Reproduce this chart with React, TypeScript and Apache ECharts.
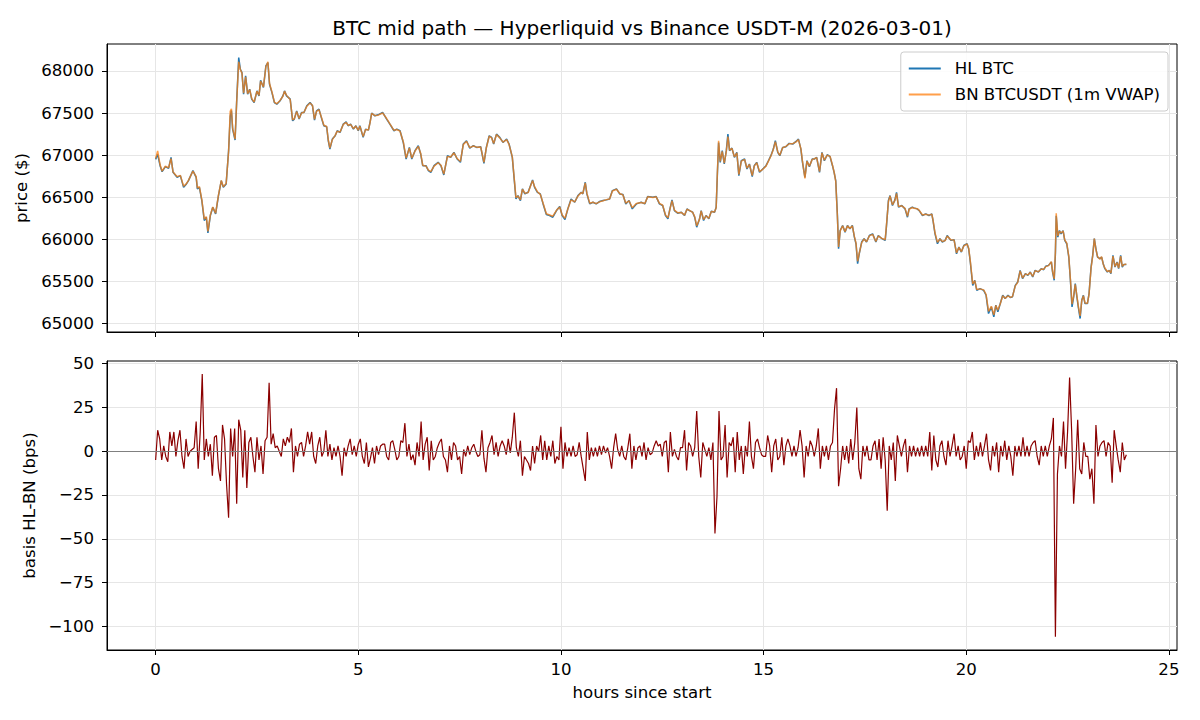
import React, { useEffect, useRef } from "react";
import * as echarts from "echarts";

const TITLE = "BTC mid path — Hyperliquid vs Binance USDT-M (2026-03-01)";
const HL_NAME = "HL BTC";
const BN_NAME = "BN BTCUSDT (1m VWAP)";

// hours since start for price samples
const hlHours = [
  0.0, 0.05, 0.11, 0.16, 0.24, 0.32, 0.38, 0.43, 0.53, 0.61, 0.69, 0.76, 0.81, 0.92,
  1.0, 1.03, 1.08, 1.14, 1.2, 1.25, 1.29, 1.35, 1.41, 1.48, 1.55, 1.62, 1.67, 1.74, 1.8, 1.84, 1.87, 1.9, 1.96,
  2.0, 2.05, 2.09, 2.13, 2.17, 2.22, 2.27, 2.32, 2.37, 2.43, 2.5, 2.55, 2.59, 2.66, 2.72, 2.77, 2.81, 2.87, 2.93, 2.99,
  3.07, 3.14, 3.18, 3.23, 3.32, 3.38, 3.42, 3.48, 3.54, 3.6, 3.66, 3.73, 3.81, 3.87, 3.92, 3.97,
  4.03, 4.1, 4.15, 4.22, 4.26, 4.3, 4.36, 4.43, 4.48, 4.55, 4.63, 4.7, 4.75, 4.81, 4.88, 4.94,
  5.0, 5.04, 5.12, 5.18, 5.25, 5.29, 5.33, 5.41, 5.49, 5.6, 5.7, 5.78, 5.88, 5.95,
  6.03, 6.11, 6.18, 6.26, 6.32, 6.4, 6.48, 6.54, 6.59, 6.67, 6.73, 6.79, 6.87, 6.97,
  7.04, 7.11, 7.2, 7.28, 7.36, 7.44, 7.52, 7.59, 7.67, 7.75, 7.84, 7.92,
  8.02, 8.1, 8.16, 8.23, 8.29, 8.34, 8.41, 8.49, 8.57, 8.66, 8.72, 8.8, 8.85, 8.89, 8.94,
  9.0, 9.05, 9.11, 9.19, 9.3, 9.35, 9.42, 9.49, 9.56, 9.64, 9.72, 9.8, 9.89, 9.97,
  10.03, 10.1, 10.17, 10.25, 10.34, 10.42, 10.5, 10.54, 10.6, 10.64, 10.71, 10.79, 10.87, 10.95,
  11.04, 11.12, 11.2, 11.27, 11.37, 11.45, 11.53, 11.6, 11.68, 11.76, 11.86, 11.98,
  12.07, 12.14, 12.27, 12.35, 12.43, 12.51, 12.58, 12.64, 12.68, 12.74, 12.8, 12.88, 12.97,
  13.05, 13.11, 13.17, 13.25, 13.3, 13.35, 13.42, 13.46, 13.52, 13.58, 13.65, 13.71, 13.79, 13.83, 13.86, 13.89, 13.93, 13.98,
  14.03, 14.08, 14.12, 14.16, 14.22, 14.28, 14.34, 14.39, 14.45, 14.53, 14.59, 14.65, 14.72, 14.77, 14.83, 14.9, 14.98,
  15.06, 15.12, 15.18, 15.24, 15.29, 15.35, 15.4, 15.47, 15.55, 15.63, 15.72, 15.8, 15.86, 15.92, 15.96,
  16.02, 16.07, 16.13, 16.2, 16.25, 16.31, 16.38, 16.44, 16.5, 16.57, 16.64, 16.7, 16.74, 16.78, 16.82, 16.85, 16.89, 16.95,
  17.01, 17.07, 17.13, 17.19, 17.24, 17.28, 17.32, 17.36, 17.42, 17.48, 17.54, 17.61, 17.69, 17.77, 17.83, 17.92,
  18.0, 18.03, 18.08, 18.12, 18.18, 18.24, 18.28, 18.33, 18.41, 18.49, 18.55, 18.59, 18.67, 18.71, 18.79, 18.84, 18.92,
  19.0, 19.08, 19.15, 19.18, 19.23, 19.29, 19.35, 19.41, 19.48, 19.53, 19.62, 19.7, 19.76, 19.82, 19.88, 19.94,
  20.02, 20.06, 20.1, 20.16, 20.21, 20.26, 20.34, 20.43, 20.49, 20.55, 20.62, 20.68, 20.73, 20.78, 20.84, 20.9, 20.96,
  21.03, 21.09, 21.14, 21.21, 21.27, 21.33, 21.39, 21.46, 21.52, 21.58, 21.64, 21.7, 21.78, 21.85, 21.91, 21.96,
  22.03, 22.1, 22.13, 22.17, 22.2, 22.22, 22.26, 22.3, 22.34, 22.39, 22.43, 22.48, 22.53, 22.57, 22.61, 22.65, 22.69, 22.73, 22.77, 22.81, 22.85, 22.89, 22.93, 22.99,
  23.03, 23.08, 23.12, 23.16, 23.2, 23.24, 23.3, 23.34, 23.38, 23.42, 23.48, 23.53, 23.57, 23.62, 23.67, 23.72, 23.76, 23.81, 23.85, 23.89, 23.95,
];

const hlPrice = [
  66950, 67010, 66875, 66804, 66863, 66843, 66974, 66796, 66737, 66757, 66618, 66658, 66697, 66816,
  66737, 66599, 66618, 66461, 66224, 66263, 66078, 66283, 66382, 66303, 66520, 66697, 66618, 66658, 67053, 67460, 67530, 67309, 67179,
  67645, 68158, 68020, 67980, 67724, 67941, 67724, 67783, 67665, 67625, 67763, 67704, 67889, 67803, 68059, 68099, 67842, 67743, 67625, 67605,
  67645, 67704, 67763, 67704, 67665, 67408, 67428, 67526, 67428, 67507, 67507, 67586, 67625, 67586, 67416, 67526,
  67546, 67428, 67349, 67337, 67171, 67072, 67191, 67230, 67290, 67270, 67369, 67396, 67349, 67369, 67309, 67349,
  67290, 67349, 67211, 67309, 67297, 67390, 67500, 67467, 67479, 67507, 67428, 67369, 67290, 67309,
  67290, 67151, 66954, 67092, 66954, 67053, 67112, 67013, 66875, 66875, 66816, 66796, 66875, 66915,
  66875, 66765, 66994, 66974, 67033, 66954, 66915, 67132, 67171, 67084, 67112, 67092,
  67100, 66903, 67092, 67230, 67211, 67132, 67250, 67211, 67151, 67191, 67132, 66974, 66697, 66480, 66520,
  66461, 66599, 66540, 66559, 66705, 66618, 66559, 66540, 66421, 66295, 66283, 66263, 66342, 66390,
  66283, 66236, 66362, 66480, 66441, 66520, 66559, 66540, 66678, 66540, 66421, 66441, 66421, 66449,
  66461, 66469, 66480, 66579, 66599, 66540, 66532, 66421, 66461, 66362, 66421, 66441,
  66421, 66508, 66500, 66508, 66421, 66402, 66283, 66244, 66342, 66469, 66342, 66311, 66323,
  66283, 66362, 66342, 66323, 66263, 66145, 66244, 66342, 66224, 66283, 66244, 66334, 66323, 66382, 66776, 67151, 66915, 67053,
  66895, 67053, 67250, 67053, 67084, 66974, 67033, 66757, 66934, 66954, 66836, 66895, 66745, 66875, 66915, 66796, 66836,
  66875, 66934, 66994, 67072, 67171, 67033, 66994, 67092, 67100, 67140, 67132, 67163, 67191, 67072, 66915,
  66737, 66934, 66863, 66954, 66954, 66974, 66796, 67033, 66934, 67005, 66982, 66875, 66796, 66697, 66303, 65888, 66105, 66165,
  66086, 66165, 66125, 66165, 66027, 65948, 65711, 65829, 65968, 66008, 65968, 66046, 66066, 65968, 66046, 66008,
  65988, 66145, 66461, 66520, 66402, 66469, 66559, 66382, 66402, 66362, 66263, 66362, 66382, 66374, 66362, 66342, 66283,
  66303, 66283, 66303, 66224, 66066, 65948, 66008, 65968, 65988, 66046, 65988, 65996, 65829, 65908, 65849, 65928,
  65948, 65888, 65731, 65454, 65514, 65395, 65415, 65395, 65336, 65119, 65198, 65079, 65218, 65139, 65238, 65336, 65297,
  65336, 65309, 65317, 65454, 65494, 65632, 65534, 65593, 65573, 65612, 65553, 65632, 65612, 65652, 65640, 65680,
  65691, 65731, 65612, 65514, 65829, 66280, 66027, 66105, 66066, 66105, 65988, 65948, 65790, 65514, 65198, 65317, 65474, 65317, 65179, 65060, 65277, 65336, 65238, 65238,
  65356, 65671, 65810, 66008, 65888, 65790, 65770, 65790, 65711, 65652, 65612, 65632, 65593, 65810, 65671, 65731, 65652, 65810, 65671, 65703, 65703,
];

const bnPrice = [
  66960, 67050, 66885, 66810, 66870, 66850, 66960, 66800, 66745, 66760, 66630, 66662, 66700, 66810,
  66745, 66610, 66625, 66470, 66240, 66270, 66095, 66290, 66385, 66310, 66525, 66700, 66625, 66665, 67040, 67520, 67550, 67320, 67190,
  67640, 68110, 68015, 67975, 67735, 67930, 67730, 67780, 67675, 67630, 67760, 67710, 67880, 67810, 68050, 68110, 67850, 67750, 67630, 67610,
  67650, 67700, 67760, 67710, 67660, 67420, 67430, 67520, 67435, 67500, 67510, 67580, 67620, 67590, 67425, 67520,
  67540, 67435, 67355, 67340, 67180, 67085, 67185, 67235, 67285, 67275, 67365, 67390, 67355, 67365, 67315, 67345,
  67295, 67345, 67220, 67305, 67300, 67385, 67495, 67470, 67475, 67500, 67435, 67372, 67295, 67305,
  67285, 67160, 66965, 67085, 66965, 67050, 67105, 67020, 66880, 66870, 66822, 66805, 66870, 66910,
  66880, 66775, 66985, 66978, 67028, 66960, 66925, 67125, 67165, 67090, 67108, 67095,
  67098, 66915, 67088, 67225, 67205, 67138, 67245, 67205, 67155, 67185, 67128, 66980, 66710, 66495, 66515,
  66470, 66595, 66548, 66555, 66700, 66625, 66565, 66535, 66430, 66305, 66290, 66275, 66345, 66385,
  66290, 66250, 66360, 66470, 66445, 66515, 66555, 66545, 66670, 66548, 66430, 66440, 66425, 66445,
  66458, 66472, 66478, 66575, 66595, 66545, 66528, 66430, 66458, 66375, 66425, 66438,
  66425, 66505, 66498, 66505, 66428, 66405, 66290, 66255, 66338, 66460, 66348, 66315, 66320,
  66288, 66358, 66345, 66320, 66270, 66160, 66240, 66338, 66235, 66280, 66250, 66330, 66325, 66375, 66800, 67170, 66925, 67045,
  66905, 67045, 67220, 67060, 67080, 66980, 67028, 66770, 66930, 66950, 66845, 66890, 66758, 66870, 66910, 66805, 66832,
  66870, 66930, 66990, 67068, 67160, 67040, 66998, 67088, 67104, 67135, 67136, 67158, 67185, 67078, 66925,
  66725, 66930, 66870, 66950, 66958, 66970, 66805, 67028, 66940, 67000, 66986, 66880, 66800, 66690, 66280, 65910, 66100, 66160,
  66092, 66160, 66130, 66160, 66035, 65955, 65740, 65835, 65962, 66004, 65972, 66042, 66060, 65975, 66040, 66012,
  65995, 66160, 66450, 66515, 66410, 66462, 66545, 66390, 66398, 66368, 66275, 66358, 66378, 66370, 66365, 66345, 66290,
  66298, 66288, 66300, 66230, 66075, 65965, 66005, 65975, 65985, 66040, 65994, 65992, 65840, 65905, 65855, 65922,
  65945, 65895, 65745, 65470, 65510, 65405, 65412, 65400, 65345, 65145, 65205, 65105, 65215, 65160, 65235, 65330, 65300,
  65330, 65312, 65320, 65448, 65490, 65625, 65540, 65590, 65578, 65608, 65560, 65628, 65615, 65648, 65645, 65676,
  65688, 65735, 65620, 65530, 65860, 66310, 66040, 66098, 66075, 66100, 65995, 65955, 65800, 65530, 65230, 65325, 65465, 65330, 65195, 65090, 65270, 65330, 65245, 65240,
  65350, 65660, 65800, 66010, 65880, 65795, 65765, 65795, 65705, 65660, 65618, 65628, 65600, 65800, 65678, 65725, 65660, 65800, 65680, 65700, 65708,
];

// basis HL-BN in bps, one value every BASIS_STEP_H hours starting at 0 (20 per hour)
const BASIS_STEP_H = 0.05;
const basisBps = [
  -5, 12, 7, -5, 3, -3, -6, 11, 3, 11, -3, 6, 12, -3, -10, 7, -3, 0, 1, 2,
  17, -10, 11, 44, -5, 7, -3, 4, -14, 8, 9, -10, -17, 15, 7, -19, -38, 13, -3, 13,
  -30, 18, 12, -15, 12, -21, 5, 8, -3, -12, 8, -5, 3, -13, 6, 8, 39, 4, 10, 2,
  3, 0, -3, 7, 3, 8, 5, 13, -12, 3, -3, 4, 5, -3, 3, 11, 4, 11, -3, -7,
  3, 8, -3, 0, 12, -3, 4, -5, 2, -3, 3, -3, -14, 2, -3, 3, 7, -2, 3, -3,
  4, 7, -3, -7, 5, -9, -4, 2, -7, 3, -2, 3, 4, 4, -3, -5, 5, 6, 1, -5,
  -3, 6, 5, 16, -3, 4, -5, -2, -8, 5, -3, 17, -5, 4, 8, -11, 6, -5, -3, 2,
  5, 7, -3, -5, -12, 3, -5, 5, 3, -5, -3, -13, 1, -3, 3, -2, 2, 4, 0, -3,
  -2, 12, -4, -12, 2, 5, 9, -2, 5, -3, 3, 6, 3, -2, 7, -1, 8, 22, 2, -3,
  6, -14, -3, -5, -7, -11, 3, -7, 3, 0, 9, -5, 6, -5, 3, -3, 6, -7, -3, -5,
  14, -10, 5, -3, 2, -3, 3, -3, -2, 5, -3, -10, -17, 11, -5, 2, -3, 2, -3, 3,
  -2, 3, -1, 2, -3, -10, 2, 10, 1, -3, 3, -3, -5, 2, 10, -10, 3, -5, 2, 3,
  -3, 5, -5, 2, -2, -1, 3, 6, 3, 4, -3, 5, 6, -12, 11, -3, 1, -3, -5, 2,
  2, 12, -11, 5, 3, -3, 2, 23, -3, -15, 5, 1, -3, 2, -5, 5, -47, -26, 23, -5,
  -3, 15, -15, 5, 3, 8, -12, 11, -5, 3, -13, 3, -3, 17, -3, -10, 5, 7, 2, -2,
  -3, -3, 9, 3, -12, 3, 7, -5, -3, 8, -8, 3, 7, 3, -3, 3, -3, 2, 12, 3,
  -15, 3, -3, 6, 3, -3, 3, 13, -10, 3, -3, 3, -5, 3, 5, 24, 36, -20, -10, 3,
  -5, 3, -7, 7, -5, 5, 25, -10, -16, 3, -3, 3, -5, -5, 3, 6, -5, 7, -10, 8,
  -5, -34, 3, -5, 5, -17, 9, 3, -3, 3, 7, -12, 3, -3, 3, -3, 2, -3, 3, -3,
  3, -3, 11, -11, 9, -5, -9, 3, 6, -3, -8, 6, -3, 3, 10, -3, 3, -5, -3, 3,
  -10, 6, 5, 11, -5, 3, -3, 5, -3, 3, 10, -5, -11, 3, -3, 5, -12, 3, -3, 6,
  -5, 3, -3, -14, 3, -3, 3, -3, 8, -3, 3, -3, 3, 5, 6, -3, -8, 3, -3, 3,
  -3, 3, 7, 19, -106, -13, 3, -3, 17, -10, 11, 42, 12, -30, -10, 18, -10, -13, 5, -3,
  -3, -16, -10, -30, 15, -3, 3, 5, 6, -3, 5, 3, -18, 12, 3, -5, -12, 5, -5, -2,
];

const xTicks = [0, 5, 10, 15, 20, 25];
const priceTicks = [65000, 65500, 66000, 66500, 67000, 67500, 68000];
const basisTicks = [-100, -75, -50, -25, 0, 25, 50];

const X_MIN = -1.2;
const X_MAX = 25.2;
const PRICE_MIN = 64900;
const PRICE_MAX = 68320;
const BASIS_MIN = -113.5;
const BASIS_MAX = 51.5;

const FONT = "'DejaVu Sans', 'Liberation Sans', sans-serif";
const FS = 16.6;

const fmtMinus = (v: number) => (v < 0 ? "\u2212" + Math.abs(v) : String(v));

export default function App() {
  const ref = useRef<HTMLDivElement>(null);

  useEffect(() => {
    if (!ref.current) return;
    const chart = echarts.init(ref.current, null, { renderer: "svg" });

    const n = Math.min(hlHours.length, hlPrice.length, bnPrice.length);
    const hlData = [] as number[][];
    const bnData = [] as number[][];
    for (let i = 0; i < n; i++) {
      hlData.push([hlHours[i], hlPrice[i]]);
      bnData.push([hlHours[i], bnPrice[i]]);
    }
    const basisData = basisBps.map((v, i) => [+(i * BASIS_STEP_H).toFixed(2), v]);

    const splitLine = { show: true, lineStyle: { color: "#e6e6e6", width: 1 } };
    const tick = { show: true, length: 5, inside: false, lineStyle: { color: "#000", width: 1 } };
    const axisLine = { show: true, onZero: false, lineStyle: { color: "#000", width: 1 } };

    const baseX = (gridIndex: number, showLabel: boolean) => ({
      type: "value",
      gridIndex,
      min: X_MIN,
      max: X_MAX,
      axisLine,
      axisTick: { ...tick, customValues: xTicks },
      axisLabel: {
        show: showLabel,
        customValues: xTicks,
        margin: 11,
        color: "#000",
        fontSize: FS,
        fontFamily: FONT,
        formatter: (v: number) => String(v),
      },
      splitLine,
    });

    const option: any = {
      animation: false,
      backgroundColor: "#ffffff",
      textStyle: { fontFamily: FONT },
      grid: [
        { left: 107, right: 23, top: 44, height: 288, show: true, borderColor: "#000", borderWidth: 1, backgroundColor: "transparent" },
        { left: 107, right: 23, top: 361, height: 289, show: true, borderColor: "#000", borderWidth: 1, backgroundColor: "transparent" },
      ],
      graphic: [
        {
          type: "text",
          x: 642,
          y: 28,
          style: {
            text: TITLE,
            fontSize: 20,
            fontFamily: FONT,
            fill: "#000",
            textAlign: "center",
            textVerticalAlign: "middle",
          },
        },
      ],
      legend: {
        orient: "vertical",
        right: 32,
        top: 52,
        itemWidth: 32,
        itemHeight: 2,
        itemGap: 9,
        icon: "rect",
        backgroundColor: "rgba(255,255,255,0.85)",
        borderColor: "#cccccc",
        borderWidth: 1,
        borderRadius: 3,
        padding: [8, 8, 8, 8],
        textStyle: { fontSize: FS, color: "#000", fontFamily: FONT, padding: [0, 0, 0, 9] },
        data: [{ name: HL_NAME }, { name: BN_NAME, itemStyle: { opacity: 0.75 } }],
      },
      xAxis: [
        baseX(0, false),
        {
          ...baseX(1, true),
          name: "hours since start",
          nameLocation: "middle",
          nameGap: 34,
          nameTextStyle: { fontSize: FS, color: "#000", fontFamily: FONT },
        },
      ],
      yAxis: [
        {
          type: "value",
          gridIndex: 0,
          min: PRICE_MIN,
          max: PRICE_MAX,
          name: "price ($)",
          nameLocation: "middle",
          nameGap: 74,
          nameTextStyle: { fontSize: FS, color: "#000", fontFamily: FONT },
          axisLine,
          axisTick: { ...tick, customValues: priceTicks },
          axisLabel: {
            customValues: priceTicks,
            margin: 13,
            color: "#000",
            fontSize: FS,
            fontFamily: FONT,
            formatter: (v: number) => String(v),
          },
          splitLine,
        },
        {
          type: "value",
          gridIndex: 1,
          min: BASIS_MIN,
          max: BASIS_MAX,
          name: "basis HL-BN (bps)",
          nameLocation: "middle",
          nameGap: 66,
          nameTextStyle: { fontSize: FS, color: "#000", fontFamily: FONT },
          axisLine,
          axisTick: { ...tick, customValues: basisTicks },
          axisLabel: {
            customValues: basisTicks,
            margin: 13,
            color: "#000",
            fontSize: FS,
            fontFamily: FONT,
            formatter: fmtMinus,
          },
          splitLine,
        },
      ],
      series: [
        {
          name: HL_NAME,
          type: "line",
          xAxisIndex: 0,
          yAxisIndex: 0,
          data: hlData,
          symbol: "none",
          showSymbol: false,
          silent: true,
          lineStyle: { color: "#1f77b4", width: 1.5 },
          itemStyle: { color: "#1f77b4" },
          z: 2,
        },
        {
          name: BN_NAME,
          type: "line",
          xAxisIndex: 0,
          yAxisIndex: 0,
          data: bnData,
          symbol: "none",
          showSymbol: false,
          silent: true,
          lineStyle: { color: "#ff7f0e", width: 1.5, opacity: 0.75 },
          itemStyle: { color: "#ff7f0e" },
          z: 3,
        },
        {
          name: "basis",
          type: "line",
          xAxisIndex: 1,
          yAxisIndex: 1,
          data: basisData,
          symbol: "none",
          showSymbol: false,
          silent: true,
          lineStyle: { color: "#8b0000", width: 1.2 },
          itemStyle: { color: "#8b0000" },
          z: 2,
          markLine: {
            silent: true,
            symbol: ["none", "none"],
            label: { show: false },
            lineStyle: { color: "#808080", width: 1.2, type: "solid" },
            data: [{ yAxis: 0 }],
          },
        },
      ],
    };

    chart.setOption(option);
    return () => chart.dispose();
  }, []);

  return (
    <div
      ref={ref}
      style={{ position: "absolute", left: 0, top: 0, width: 1200, height: 720, background: "#fff" }}
    />
  );
}
